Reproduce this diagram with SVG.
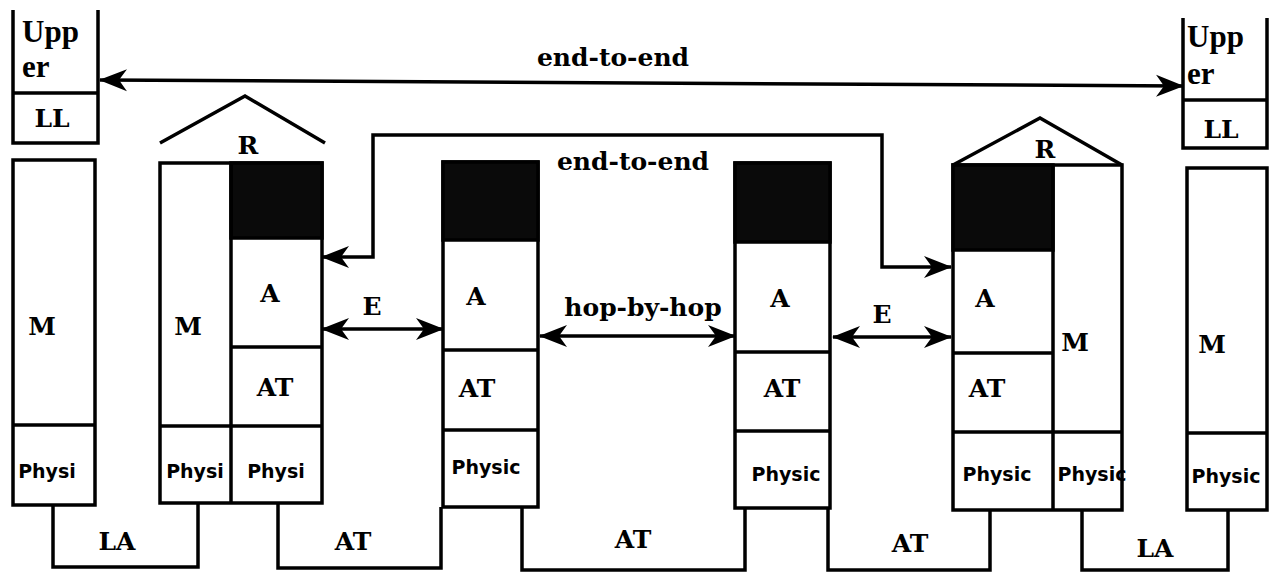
<svg xmlns="http://www.w3.org/2000/svg" width="1272" height="572" viewBox="0 0 1272 572">
<style>
.ln{fill:none;stroke:#000;stroke-width:3.5;stroke-linejoin:miter}
.box{fill:#fff;stroke:#000;stroke-width:3.5}
.blk{fill:#0a0a0a;stroke:#000;stroke-width:3.5}
.t{font-family:"DejaVu Serif","Liberation Serif",serif;font-weight:bold;font-size:25px;fill:#000;text-anchor:middle}
.tl{font-family:"Liberation Serif","DejaVu Serif",serif;font-weight:bold;font-size:31px;fill:#000}
.p{font-family:"DejaVu Sans","Liberation Sans",sans-serif;font-weight:bold;font-size:19px;fill:#000;text-anchor:middle}
</style>
<defs>
<marker id="arr" viewBox="0 -12 28 24" refX="27" refY="0" markerWidth="28" markerHeight="24" markerUnits="userSpaceOnUse" orient="auto-start-reverse">
<path d="M0,-11 L28,0 L0,11 L8,0 z" fill="#000"/>
</marker>
</defs>
<rect width="1272" height="572" fill="#fff"/>

<g id="upper-left">
<path class="ln" d="M13,10 V143 H98 V10"/>
<path class="ln" d="M13,93 H98"/>
<text class="tl" x="22" y="42">Upp</text>
<text class="tl" x="22" y="77">er</text>
<text class="t" x="52" y="127">LL</text>
</g>

<g id="host-left">
<rect class="box" x="13" y="160" width="82" height="345"/>
<path class="ln" d="M13,425 H95"/>
<text class="t" x="42" y="335">M</text>
<text class="p" x="47" y="478">Physi</text>
</g>

<g id="router-left">
<polyline class="ln" points="160,143 245,96 325,143"/>
<text class="t" x="248" y="154">R</text>
<rect class="box" x="160" y="163" width="162" height="340"/>
<rect class="blk" x="231" y="163" width="91" height="75"/>
<path class="ln" d="M231,163 V503 M231,347 H322 M160,426 H322"/>
<text class="t" x="188" y="335">M</text>
<text class="t" x="270" y="302">A</text>
<text class="t" x="275" y="396">AT</text>
<text class="p" x="195" y="478">Physi</text>
<text class="p" x="276" y="478">Physi</text>
</g>

<g id="node-1">
<rect class="box" x="443" y="162" width="95" height="345"/>
<rect class="blk" x="443" y="162" width="95" height="78"/>
<path class="ln" d="M443,350 H538 M443,430 H538"/>
<text class="t" x="476" y="305">A</text>
<text class="t" x="477" y="397">AT</text>
<text class="p" x="486" y="474">Physic</text>
</g>

<g id="node-2">
<rect class="box" x="735" y="163" width="95" height="345"/>
<rect class="blk" x="735" y="163" width="95" height="79"/>
<path class="ln" d="M735,352 H830 M735,431 H830"/>
<text class="t" x="780" y="307">A</text>
<text class="t" x="782" y="397">AT</text>
<text class="p" x="786" y="481">Physic</text>
</g>

<g id="router-right">
<polyline class="ln" points="953,165 1040,118 1122,165"/>
<text class="t" x="1045" y="158">R</text>
<rect class="box" x="953" y="165" width="169" height="345"/>
<rect class="blk" x="953" y="165" width="100" height="85"/>
<path class="ln" d="M1053,165 V510 M953,353 H1053 M953,432 H1122"/>
<text class="t" x="985" y="307">A</text>
<text class="t" x="1075" y="351">M</text>
<text class="t" x="987" y="397">AT</text>
<text class="p" x="997" y="481">Physic</text>
<text class="p" x="1092" y="481">Physic</text>
</g>

<g id="host-right">
<rect class="box" x="1187" y="168" width="80" height="342"/>
<path class="ln" d="M1187,433 H1267"/>
<text class="t" x="1212" y="353">M</text>
<text class="p" x="1226" y="483">Physic</text>
</g>

<g id="upper-right">
<path class="ln" d="M1183,18 V148 H1267 V18"/>
<path class="ln" d="M1183,100 H1267"/>
<text class="tl" x="1187" y="47">Upp</text>
<text class="tl" x="1187" y="84">er</text>
<text class="t" x="1221" y="138">LL</text>
</g>

<g id="connectors">
<path class="ln" d="M53,505 V567 H198 V503"/>
<path class="ln" d="M278,503 V568 H441 V507"/>
<path class="ln" d="M522,507 V570 H745 V508"/>
<path class="ln" d="M828,508 V570 H990 V510"/>
<path class="ln" d="M1082,510 V570 H1228 V510"/>
<text class="t" x="117" y="550">LA</text>
<text class="t" x="353" y="550">AT</text>
<text class="t" x="633" y="548">AT</text>
<text class="t" x="910" y="552">AT</text>
<text class="t" x="1155" y="557">LA</text>

<line class="ln" x1="100" y1="80" x2="1183" y2="86" marker-start="url(#arr)" marker-end="url(#arr)"/>
<text class="t" x="613" y="66">end-to-end</text>
<path class="ln" d="M322,257 H373 V135 H882 V267 H951" marker-start="url(#arr)" marker-end="url(#arr)"/>
<text class="t" x="633" y="170">end-to-end</text>
<line class="ln" x1="322" y1="329" x2="443" y2="329" marker-start="url(#arr)" marker-end="url(#arr)"/>
<text class="t" x="372" y="315">E</text>
<line class="ln" x1="540" y1="336" x2="735" y2="336" marker-start="url(#arr)" marker-end="url(#arr)"/>
<text class="t" x="643" y="316">hop-by-hop</text>
<line class="ln" x1="833" y1="337" x2="951" y2="337" marker-start="url(#arr)" marker-end="url(#arr)"/>
<text class="t" x="882" y="323">E</text>
</g>
</svg>
